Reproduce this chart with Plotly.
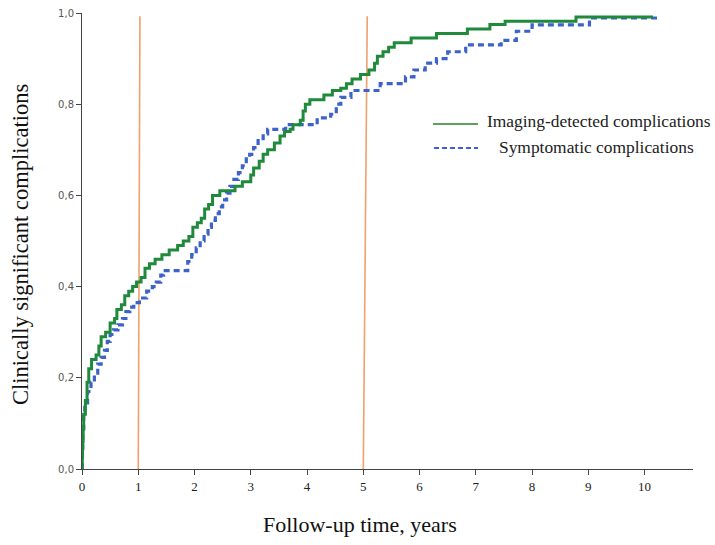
import plotly.graph_objects as go

# Imaging-detected complications (step curve)
img_t = [0, 0.005, 0.01, 0.02, 0.03, 0.06, 0.09, 0.12, 0.17, 0.25, 0.3, 0.34, 0.42, 0.5, 0.58, 0.62,
         0.7, 0.76, 0.83, 0.9, 0.97, 1.05, 1.12, 1.2, 1.3, 1.42, 1.55, 1.7, 1.8, 1.9, 1.97, 2.05,
         2.12, 2.18, 2.25, 2.32, 2.45, 2.72, 2.85, 3.0, 3.05, 3.15, 3.22, 3.3, 3.42, 3.52, 3.6,
         3.7, 3.75, 3.88, 3.93, 3.97, 4.05, 4.3, 4.45, 4.6, 4.7, 4.8, 4.95, 5.1, 5.2, 5.25, 5.35,
         5.45, 5.55, 5.85, 6.3, 6.85, 7.25, 7.52, 8.78, 10.15]
img_p = [0, 0.03, 0.06, 0.09, 0.12, 0.15, 0.19, 0.22, 0.24, 0.25, 0.27, 0.29, 0.30, 0.32, 0.33, 0.35,
         0.36, 0.38, 0.39, 0.40, 0.41, 0.42, 0.44, 0.45, 0.46, 0.47, 0.48, 0.49, 0.50, 0.51, 0.53, 0.54,
         0.55, 0.57, 0.58, 0.60, 0.61, 0.62, 0.63, 0.645, 0.66, 0.675, 0.69, 0.70, 0.715, 0.73, 0.74,
         0.745, 0.755, 0.765, 0.785, 0.80, 0.81, 0.82, 0.83, 0.835, 0.845, 0.855, 0.865, 0.875, 0.89, 0.905, 0.915,
         0.925, 0.935, 0.945, 0.955, 0.965, 0.975, 0.982, 0.991, 0.991]

# Symptomatic complications (step curve)
sym_t = [0, 0.005, 0.015, 0.03, 0.05, 0.1, 0.16, 0.22, 0.28, 0.34, 0.4, 0.45, 0.5, 0.56, 0.64, 0.72,
         0.78, 0.85, 0.92, 1.02, 1.15, 1.25, 1.32, 1.4, 1.45, 1.88, 1.95, 2.03, 2.1, 2.17, 2.24, 2.3,
         2.37, 2.44, 2.5, 2.57, 2.63, 2.7, 2.78, 2.85, 2.92, 2.98, 3.05, 3.13, 3.22, 3.3, 3.62, 4.18,
         4.42, 4.52, 4.6, 4.78, 5.3, 5.75, 5.9, 6.1, 6.3, 6.5, 6.82, 7.45, 7.72, 8.0, 9.02, 10.27]
sym_p = [0, 0.04, 0.08, 0.12, 0.145, 0.17, 0.19, 0.21, 0.23, 0.245, 0.26, 0.28, 0.295, 0.305, 0.316, 0.33,
         0.345, 0.355, 0.365, 0.375, 0.39, 0.40, 0.41, 0.425, 0.435, 0.455, 0.47, 0.485, 0.50, 0.515, 0.53, 0.545,
         0.56, 0.575, 0.59, 0.605, 0.62, 0.635, 0.65, 0.665, 0.68, 0.69, 0.705, 0.72, 0.735, 0.745, 0.755, 0.77,
         0.778, 0.80, 0.815, 0.83, 0.845, 0.86, 0.875, 0.89, 0.90, 0.915, 0.93, 0.94, 0.96, 0.974, 0.989, 0.989]

series_names = ["Imaging-detected complications", "Symptomatic complications"]

# Reference lines (years) and the slight tilt of their tops
ref_years = [1, 5]
ref_top_years = [1.03, 5.07]
ref_top = 0.993

x_ticks = list(range(0, 11))
y_ticks = [0.0, 0.2, 0.4, 0.6, 0.8, 1.0]

GREEN = "#1f8a3b"
BLUE = "#3d62c8"
ORANGE = "#f2a06c"

fig = go.Figure()

for xb, xt in zip(ref_years, ref_top_years):
    fig.add_trace(go.Scatter(x=[xb, xt], y=[0, ref_top], mode="lines",
                             line=dict(color=ORANGE, width=1.6),
                             showlegend=False, hoverinfo="skip"))

fig.add_trace(go.Scatter(x=sym_t, y=sym_p, mode="lines", line_shape="hv", name=series_names[1],
                         line=dict(color=BLUE, width=3.2, dash="6px,4px"), showlegend=False))
fig.add_trace(go.Scatter(x=img_t, y=img_p, mode="lines", line_shape="hv", name=series_names[0],
                         line=dict(color=GREEN, width=3), showlegend=False))

W, H = 715, 545
L, T = 82, 13
PW, PH = 611, 456


def px(sx):
    return (sx - L) / PW


def py(sy):
    return (T + PH - sy) / PH


# hand-drawn legend (key lines + labels)
legend_shapes = [
    dict(type="line", xref="paper", yref="paper", x0=px(433), x1=px(478), y0=py(124), y1=py(124),
         line=dict(color="#5fa05f", width=2)),
    dict(type="line", xref="paper", yref="paper", x0=px(434), x1=px(478), y0=py(148), y1=py(148),
         line=dict(color=BLUE, width=2, dash="5px,3px")),
]
legend_labels = [
    dict(text=series_names[0], xref="paper", yref="paper", x=px(485), y=py(121),
         xanchor="left", yanchor="middle", showarrow=False,
         font=dict(family="Liberation Serif", size=17.4, color="#222")),
    dict(text=series_names[1], xref="paper", yref="paper", x=px(497), y=py(147),
         xanchor="left", yanchor="middle", showarrow=False,
         font=dict(family="Liberation Serif", size=17.4, color="#222")),
]

fig.update_layout(
    width=W, height=H,
    margin=dict(l=L, r=W - L - PW, t=T, b=H - T - PH),
    paper_bgcolor="white", plot_bgcolor="white",
    separators=",.",
    showlegend=False,
    xaxis=dict(range=[0, 10.86], tickvals=x_ticks, ticks="outside", ticklen=5, tickcolor="#444",
               showline=True, linecolor="#444", linewidth=1, showgrid=False, zeroline=False,
               automargin=False,
               tickfont=dict(family="Liberation Serif", size=13, color="#222")),
    yaxis=dict(range=[0, 1.0], tickvals=y_ticks, tickformat=".1f", ticks="outside", ticklen=5,
               tickcolor="#444", showline=True, linecolor="#444", linewidth=1, showgrid=False,
               zeroline=False, automargin=False,
               tickfont=dict(family="DejaVu Sans", size=10, color="#555")),
    shapes=legend_shapes,
    annotations=[
        dict(text="Clinically significant complications", xref="paper", yref="paper",
             x=px(20), y=py(245), xanchor="center", yanchor="middle",
             textangle=-90, showarrow=False,
             font=dict(family="Liberation Serif", size=22.5, color="#111")),
        dict(text="Follow-up time, years", xref="paper", yref="paper",
             x=px(360), y=py(524), xanchor="center", yanchor="middle",
             showarrow=False,
             font=dict(family="Liberation Serif", size=22, color="#111")),
    ] + legend_labels,
)

# remove the default page margin so the figure fills the window exactly; hide the toolbar
fig.write_html("out.html", config={"displayModeBar": False},
               post_script="document.body.style.margin='0';")
